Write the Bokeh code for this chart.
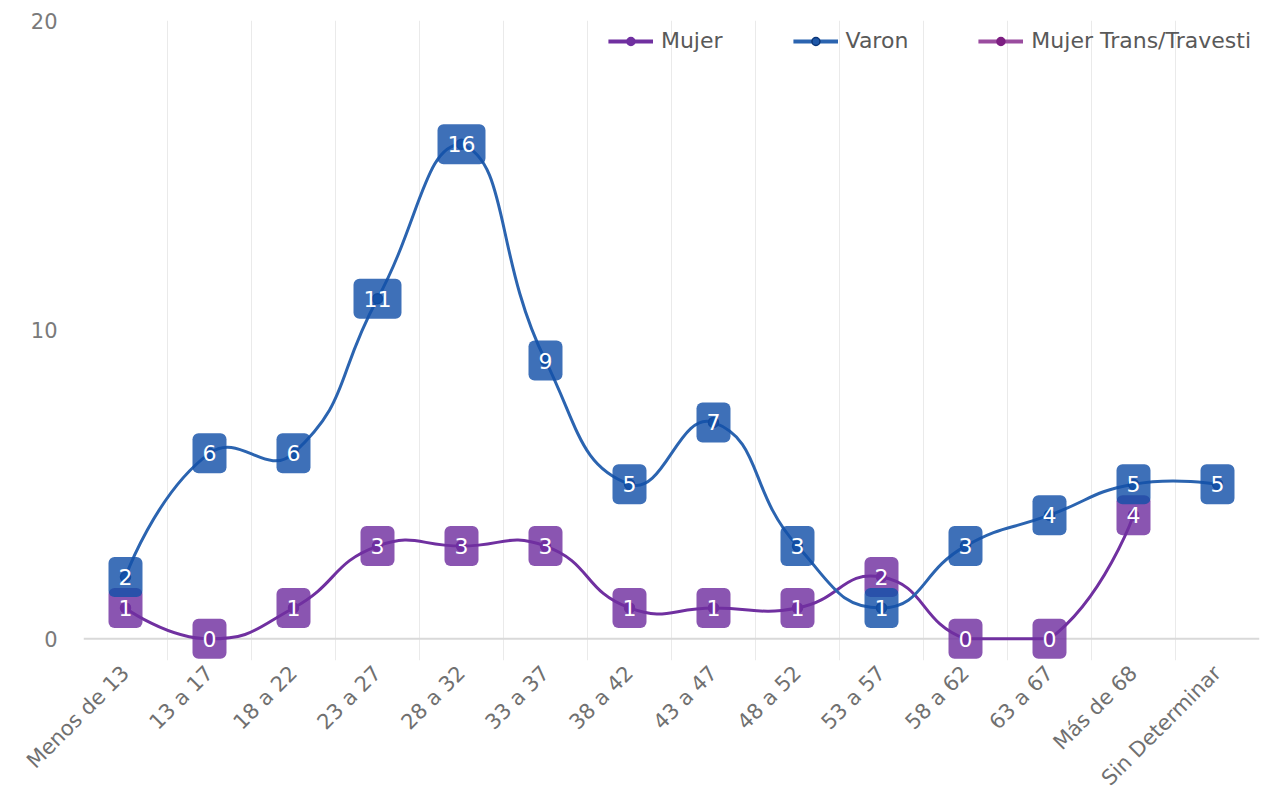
import math
from bokeh.plotting import figure
from bokeh.models import ColumnDataSource, FixedTicker, Label, Legend, LegendItem, Range1d, Span
from bokeh.embed import file_html
from bokeh.resources import INLINE

categories = ["Menos de 13", "13 a 17", "18 a 22", "23 a 27", "28 a 32", "33 a 37",
              "38 a 42", "43 a 47", "48 a 52", "53 a 57", "58 a 62", "63 a 67",
              "Más de 68", "Sin Determinar"]
mujer = [1, 0, 1, 3, 3, 3, 1, 1, 1, 2, 0, 0, 4, None]
varon = [2, 6, 6, 11, 16, 9, 5, 7, 3, 1, 3, 4, 5, 5]
trans = [None] * 14
y_ticks = [0, 10, 20]

series_names = ["Mujer", "Varon", "Mujer Trans/Travesti"]
line_colors = ["#7030a0", "#2b64b0", "#9a4c9f"]
marker_colors = ["#7030a0", "#1f58a8", "#7d1f82"]
marker_outlines = ["#7030a0", "#0b3678", "#7d1f82"]
box_colors = ["#7030a0", "#1450a8", "#7d1f82"]

FONT = "DejaVu Sans"
NAN = float("nan")

n = len(categories)
centers = list(range(n))
bounds = [i - 0.5 for i in range(n + 1)]

# layout
W, H = 1260, 804
BL, BR, BT = 83, 1, 20
Y0, Y1 = -0.7, 20
FRAME_H = 640
BB = H - BT - FRAME_H
FRAME_W = W - BL - BR
SX = FRAME_W / n                # px per category
SY = FRAME_H / (Y1 - Y0)        # px per unit


def smooth_segments(xs, ys, smooth=0.5):
    """ECharts-style smoothed polyline (computed in screen pixels)."""
    pts = [(x * SX, y * SY) for x, y in zip(xs, ys)]
    ymin = min(q[1] for q in pts)
    ymax = max(q[1] for q in pts)
    xmin = min(q[0] for q in pts)
    xmax = max(q[0] for q in pts)

    def clamp(c):
        return (min(max(c[0], xmin), xmax), min(max(c[1], ymin), ymax))

    out = dict(x0=[], y0=[], cx0=[], cy0=[], cx1=[], cy1=[], x1=[], y1=[])
    cp0 = pts[0]
    m = len(pts)
    for i in range(1, m):
        q = pts[i]
        prev = pts[i - 1]
        ratio = 0.5
        v = (0.0, 0.0)
        if i == m - 1:
            cp1 = q
        else:
            nxt = pts[i + 1]
            v = (nxt[0] - prev[0], nxt[1] - prev[1])
            lp = math.hypot(q[0] - prev[0], q[1] - prev[1])
            ln = math.hypot(nxt[0] - q[0], nxt[1] - q[1])
            ratio = ln / (ln + lp) if (ln + lp) else 0.5
            cp1 = (q[0] - v[0] * smooth * (1 - ratio), q[1] - v[1] * smooth * (1 - ratio))
        c0 = clamp(cp0)
        c1 = clamp(cp1)
        out["x0"].append(prev[0] / SX); out["y0"].append(prev[1] / SY)
        out["cx0"].append(c0[0] / SX); out["cy0"].append(c0[1] / SY)
        out["cx1"].append(c1[0] / SX); out["cy1"].append(c1[1] / SY)
        out["x1"].append(q[0] / SX); out["y1"].append(q[1] / SY)
        cp0 = (q[0] + v[0] * smooth * ratio, q[1] + v[1] * smooth * ratio)
    return out


def runs(vals):
    res, cur = [], []
    for i, v in enumerate(vals):
        if v is None:
            if cur:
                res.append(cur)
            cur = []
        else:
            cur.append((i, v))
    if cur:
        res.append(cur)
    return res


p = figure(width=W, height=H, output_backend="svg", toolbar_location=None,
           x_range=Range1d(-0.5, n - 0.5), y_range=Range1d(Y0, Y1),
           min_border_left=BL, min_border_right=BR, min_border_top=BT, min_border_bottom=BB)
p.outline_line_color = None
p.background_fill_color = "white"

# grid
p.ygrid.visible = False
p.xgrid.ticker = FixedTicker(ticks=bounds)
p.xgrid.grid_line_color = "#eaeaea"
p.xgrid.grid_line_width = 1

# x axis
xa = p.xaxis[0]
xa.ticker = FixedTicker(ticks=centers)
xa.major_label_overrides = {i: c for i, c in enumerate(categories)}
xa.major_label_orientation = math.pi / 4
xa.major_tick_out = 0
xa.major_tick_in = 0
xa.minor_tick_out = 0
xa.minor_tick_in = 0
xa.axis_line_color = None
xa.major_label_text_font = FONT
xa.major_label_text_font_size = "21px"
xa.major_label_text_color = "#707070"
xa.major_label_standoff = 9

# zero baseline
p.add_layout(Span(location=0, dimension="width", line_color="#d9d9d9", line_width=2,
                  level="underlay"))

# y axis
ya = p.yaxis[0]
ya.ticker = FixedTicker(ticks=y_ticks)
ya.axis_line_color = None
ya.major_tick_out = 0
ya.major_tick_in = 0
ya.minor_tick_out = 0
ya.minor_tick_in = 0
ya.major_label_standoff = 26
ya.major_label_text_font = FONT
ya.major_label_text_font_size = "21px"
ya.major_label_text_color = "#7a7a7a"

legend_items = []
all_series = [mujer, varon, trans]
for k, vals in enumerate(all_series):
    for run in runs(vals):
        xs = [centers[i] for i, _ in run]
        ys = [v for _, v in run]
        if len(xs) > 1:
            seg = smooth_segments(xs, ys)
            p.bezier(x0="x0", y0="y0", x1="x1", y1="y1", cx0="cx0", cy0="cy0",
                     cx1="cx1", cy1="cy1", source=ColumnDataSource(seg),
                     line_color=line_colors[k], line_width=3)
    xs = [centers[i] for i, v in enumerate(vals) if v is not None]
    ys = [v for v in vals if v is not None]
    if not xs:
        xs, ys = [NAN], [NAN]
    sr = p.scatter(xs, ys, size=10, fill_color=marker_colors[k],
                   line_color=marker_outlines[k], line_width=1.5)
    proxy = p.line([NAN], [NAN], line_color=line_colors[k], line_width=4)
    legend_items.append(LegendItem(label=series_names[k], renderers=[proxy, sr]))

# data labels (Mujer first, Varon on top)
for k, vals in enumerate(all_series):
    for i, v in enumerate(vals):
        if v is None:
            continue
        p.add_layout(Label(x=centers[i], y=v, text=str(v),
                           text_align="center", text_baseline="middle",
                           text_font=FONT, text_font_size="22px", text_color="white",
                           background_fill_color=box_colors[k], background_fill_alpha=0.82,
                           border_radius=6, padding=(10, 12)))

legend = Legend(items=legend_items, location="top_right", orientation="horizontal",
                margin=8, padding=0, spacing=70, glyph_width=45, glyph_height=20,
                label_standoff=8, label_height=20,
                label_text_font=FONT, label_text_font_size="22px", label_text_color="#595959",
                background_fill_alpha=0, border_line_color=None)
p.add_layout(legend, "center")

open("out.html", "w").write(file_html(p, INLINE))
